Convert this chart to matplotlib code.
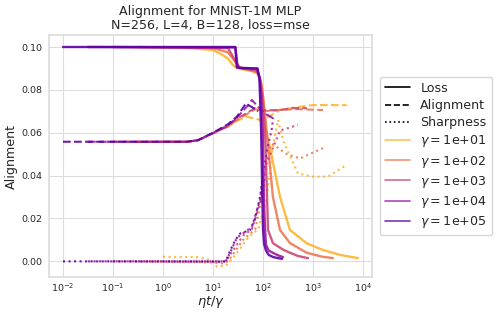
import numpy as np
import matplotlib
matplotlib.use("Agg")
import matplotlib.pyplot as plt
import seaborn as sns
from matplotlib.lines import Line2D

sns.set_theme(style="whitegrid")
plt.rcParams['font.family'] = ['DejaVu Sans']

gammas = [1e1, 1e2, 1e3, 1e4, 1e5]

# ---- Loss (solid) ----
loss_x_g1 = [1, 3, 6, 10, 15, 20, 25, 30, 40, 60, 80, 92, 100, 108, 115, 138, 219, 347, 750, 1585, 3470, 7900]
loss_y_g1 = [0.1, 0.0995, 0.099, 0.0986, 0.0965, 0.0945, 0.0916, 0.0902, 0.0895, 0.0888, 0.0875, 0.083, 0.077, 0.068, 0.061, 0.053, 0.030, 0.0146, 0.0084, 0.0053, 0.003, 0.0015]
loss_x_g2 = [0.316, 10, 20, 28, 35, 50, 80, 92, 100, 110, 118, 158, 219, 347, 750, 1500, 2500]
loss_y_g2 = [0.1, 0.0995, 0.0975, 0.093, 0.0903, 0.0895, 0.088, 0.083, 0.077, 0.068, 0.061, 0.030, 0.0146, 0.0085, 0.004, 0.0022, 0.0015]
loss_x_g3 = [0.1, 20, 28, 33, 45, 75, 88, 96, 102, 110, 126, 158, 250, 347, 500, 794]
loss_y_g3 = [0.1, 0.0995, 0.0935, 0.0905, 0.0898, 0.0890, 0.085, 0.078, 0.07, 0.061, 0.0146, 0.0085, 0.0055, 0.004, 0.0025, 0.0015]
loss_x_g4 = [0.0316, 28, 31, 35, 75, 85, 92, 99, 104, 110, 115, 130, 158, 200, 250]
loss_y_g4 = [0.1, 0.0998, 0.091, 0.0902, 0.0898, 0.086, 0.078, 0.061, 0.03, 0.0146, 0.0076, 0.005, 0.004, 0.0028, 0.002]
loss_x_g5 = [0.01, 28, 30, 32, 78, 85, 92, 97, 100, 105, 115, 130, 160, 200, 240]
loss_y_g5 = [0.1, 0.1, 0.0905, 0.0903, 0.0900, 0.085, 0.06, 0.03, 0.015, 0.008, 0.005, 0.003, 0.002, 0.0015, 0.0012]

# ---- Alignment (dashed) ----
al_x_g1 = [1, 3, 5, 10, 20, 30, 47, 87, 130, 219, 500, 1000, 4700]
al_y_g1 = [0.0558, 0.0558, 0.0565, 0.0598, 0.063, 0.0655, 0.0675, 0.066, 0.0675, 0.0706, 0.072, 0.0729, 0.0729]
al_x_g2 = [0.316, 3, 5, 10, 20, 30, 50, 70, 100, 200, 500, 1585]
al_y_g2 = [0.0558, 0.0558, 0.0565, 0.0598, 0.063, 0.066, 0.069, 0.071, 0.070, 0.0706, 0.071, 0.0706]
al_x_g3 = [0.1, 3, 5, 10, 20, 30, 50, 70, 100, 200, 400, 750]
al_y_g3 = [0.0558, 0.0558, 0.0565, 0.0598, 0.063, 0.0665, 0.0695, 0.0715, 0.0705, 0.0705, 0.0715, 0.0715]
al_x_g4 = [0.0316, 3, 5, 10, 20, 30, 47, 60, 80, 110, 160]
al_y_g4 = [0.0558, 0.0558, 0.0565, 0.0598, 0.0635, 0.067, 0.0721, 0.0753, 0.072, 0.069, 0.0667]
al_x_g5 = [0.01, 3, 5, 10, 20, 30, 45, 60, 80]
al_y_g5 = [0.0558, 0.0558, 0.0565, 0.0600, 0.064, 0.0675, 0.0735, 0.072, 0.070]

# ---- Sharpness (dotted) ----
sh_x_g1 = [1, 5, 9, 12, 18, 22, 35, 50, 80, 120, 138, 170, 200, 250, 347, 500, 1000, 2000, 4700]
sh_y_g1 = [0.0021, 0.002, 0.0005, -0.0025, -0.002, 0.0, 0.006, 0.011, 0.015, 0.03, 0.0426, 0.058, 0.066, 0.0566, 0.049, 0.041, 0.0395, 0.0395, 0.045]
sh_x_g2 = [0.316, 10, 15, 20, 40, 70, 105, 125, 150, 300, 550, 1585]
sh_y_g2 = [0.0, -0.0005, -0.001, 0.0, 0.01, 0.015, 0.035, 0.05, 0.055, 0.050, 0.048, 0.0528]
sh_x_g3 = [0.1, 15, 18, 25, 40, 60, 95, 115, 219, 500]
sh_y_g3 = [0.0, -0.0003, 0.0, 0.005, 0.012, 0.015, 0.03, 0.045, 0.061, 0.0636]
sh_x_g4 = [0.0316, 15, 18, 22, 30, 45, 60, 87, 100, 120, 148, 160]
sh_y_g4 = [0.0, 0.0, 0.0, 0.004, 0.011, 0.014, 0.016, 0.0286, 0.0395, 0.052, 0.061, 0.067]
sh_x_g5 = [0.01, 15, 18, 22, 28, 35, 55, 70, 87, 100]
sh_y_g5 = [0.0, 0.0, 0.0, 0.005, 0.01, 0.013, 0.0146, 0.02, 0.03, 0.0395]

loss = [(loss_x_g1, loss_y_g1), (loss_x_g2, loss_y_g2), (loss_x_g3, loss_y_g3), (loss_x_g4, loss_y_g4), (loss_x_g5, loss_y_g5)]
align = [(al_x_g1, al_y_g1), (al_x_g2, al_y_g2), (al_x_g3, al_y_g3), (al_x_g4, al_y_g4), (al_x_g5, al_y_g5)]
sharp = [(sh_x_g1, sh_y_g1), (sh_x_g2, sh_y_g2), (sh_x_g3, sh_y_g3), (sh_x_g4, sh_y_g4), (sh_x_g5, sh_y_g5)]

colors = sns.color_palette("plasma", 5)[::-1]

W, H = 498, 317
fig = plt.figure(figsize=(W / 100, H / 100), dpi=100)
ax = fig.add_axes([49 / W, (H - 277) / H, (372 - 49) / W, (277 - 35) / H])

alpha = 0.9
for i, g in enumerate(gammas):
    c = colors[i]
    ax.plot(*loss[i], color=c, lw=1.7, ls='-', alpha=alpha)
    ax.plot(*align[i], color=c, lw=1.5, ls='--', alpha=alpha)
    ax.plot(*sharp[i], color=c, lw=1.5, ls=':', alpha=alpha)

ax.set_xscale('log')
ax.set_xlim(10**-2.28, 10**4.18)
ax.set_ylim(-0.0073, 0.1056)
ax.set_yticks([0.0, 0.02, 0.04, 0.06, 0.08, 0.10])
ax.set_xticks([1e-2, 1e-1, 1e0, 1e1, 1e2, 1e3, 1e4])
ax.xaxis.set_minor_locator(matplotlib.ticker.NullLocator())
ax.tick_params(axis='both', length=0, labelsize=6.8, colors='#262626')
ax.tick_params(axis='y', pad=4.5)
ax.tick_params(axis='x', pad=3.5)
ax.grid(True, which='major', color='#dddddd', lw=0.8)
for s in ax.spines.values():
    s.set_color('#dddddd')

ax.set_xlabel(r'$\eta t/\gamma$', fontsize=9.4, color='#262626')
ax.set_ylabel('Alignment', fontsize=9.1, color='#262626')
ax.yaxis.set_label_coords((18 - 49) / 323, 0.5)
ax.xaxis.set_label_coords(0.5, (277 - 294) / 242)
ax.set_title('Alignment for MNIST-1M MLP\nN=256, L=4, B=128, loss=mse', fontsize=9.1, color='#262626', pad=4, linespacing=1.15)

handles = [Line2D([], [], color='black', ls='-', lw=1.2),
           Line2D([], [], color='black', ls='--', lw=1.2),
           Line2D([], [], color='black', ls=':', lw=1.2)]
labels = ['Loss', 'Alignment', 'Sharpness']
for i, g in enumerate(gammas):
    handles.append(Line2D([], [], color=colors[i], lw=1.2, alpha=0.8))
    labels.append(r'$\gamma = $' + f'{g:.0e}')
leg = ax.legend(handles, labels, loc='center left', bbox_to_anchor=(1.005, 0.5), fontsize=9.1,
                frameon=True, handlelength=2.0, labelspacing=0.33, borderpad=0.4)
for t in leg.get_texts():
    t.set_color('#262626')

fig.savefig('out.png', dpi=100)
